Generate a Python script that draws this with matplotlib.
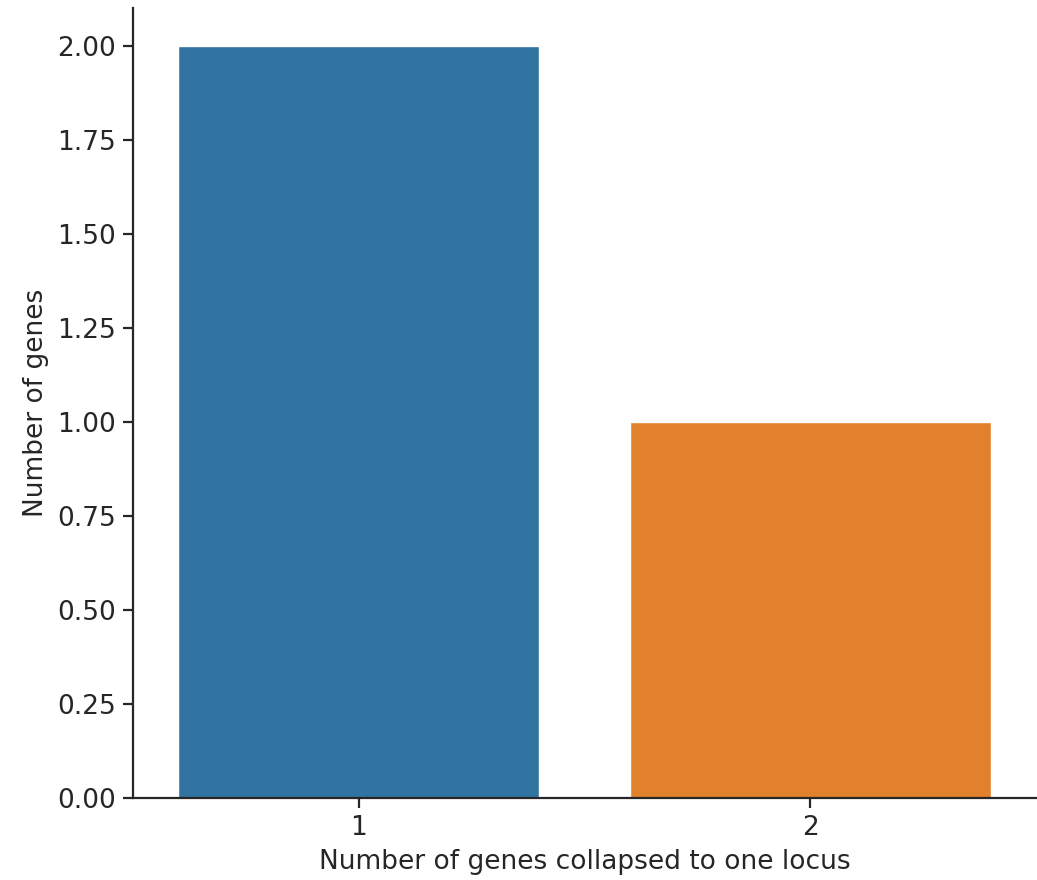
import matplotlib
matplotlib.use("Agg")
import matplotlib.pyplot as plt
import seaborn as sns
import pandas as pd

categories = ["1", "2"]
counts = [2, 1]

sns.set_theme(style="ticks")
plt.rcParams['font.family'] = ['DejaVu Sans']

fig = plt.figure(figsize=(10.37, 8.8), dpi=100)
ax = fig.add_axes([133/1037, 82/880, (1036-133)/1037, (798-8)/880])
df = pd.DataFrame({"n": categories, "count": counts})
sns.barplot(data=df, x="n", y="count", hue="n", palette=["#1f77b4", "#ff7f0e"], saturation=0.75, legend=False, ax=ax)
ax.set_ylim(0, 2.1)
ax.set_yticks([0, 0.25, 0.5, 0.75, 1.0, 1.25, 1.5, 1.75, 2.0])
ax.set_yticklabels([f"{v:.2f}" for v in ax.get_yticks()])
ax.tick_params(labelsize=19, length=7, width=1.6, pad=5)
for s in ax.spines.values():
    s.set_linewidth(1.6)
ax.set_xlabel("Number of genes collapsed to one locus", fontsize=19, labelpad=6)
ax.set_ylabel("Number of genes", fontsize=19, labelpad=6)
sns.despine(ax=ax)
fig.savefig("out.png", dpi=100)
